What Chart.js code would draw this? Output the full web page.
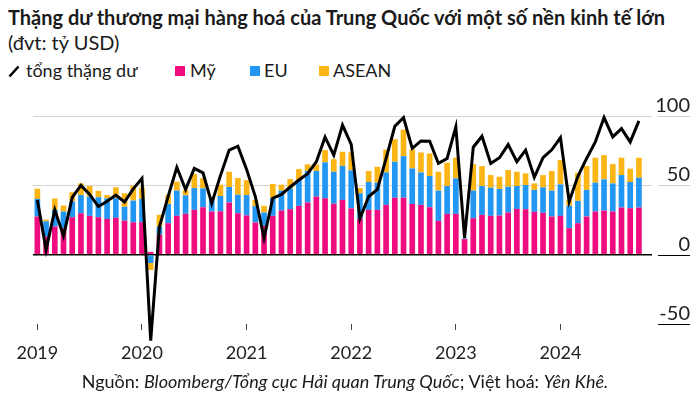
<!DOCTYPE html>
<html>
<head>
<meta charset="utf-8">
<script src="https://cdn.jsdelivr.net/npm/chart.js@4"></script>
<style>
  body { margin: 0; width: 700px; height: 395px; position: relative; background: #fff; font-family: Lato, sans-serif; color: #1a1a1a; overflow: hidden; }
  canvas { position: absolute; left: 0; top: 0; }
  .title { position: absolute; left: 8px; top: 5px; font-size: 20px; font-weight: bold; white-space: nowrap; line-height: 24px; }
  .unit { position: absolute; left: 8px; top: 30px; font-size: 20px; line-height: 24px; }
  .leg { position: absolute; top: 60px; font-size: 18px; line-height: 21px; white-space: nowrap; }
  .sw { position: absolute; top: 66px; width: 10px; height: 10px; }
  .source { position: absolute; left: 0; top: 370px; width: 690px; text-align: center; font-size: 18px; line-height: 22px; white-space: nowrap; }
</style>
</head>
<body>
<div class="title">Thặng dư thương mại hàng hoá của Trung Quốc với một số nền kinh tế lớn</div>
<div class="unit">(đvt: tỷ USD)</div>
<svg style="position:absolute;left:8px;top:65px" width="12" height="13"><line x1="1.5" y1="11.5" x2="10.5" y2="1.5" stroke="#000" stroke-width="2.6"/></svg>
<div class="leg" style="left:26px">tổng thặng dư</div>
<div class="sw" style="left:175px;background:#ee0c7e"></div>
<div class="leg" style="left:190px">Mỹ</div>
<div class="sw" style="left:250px;background:#2196f3"></div>
<div class="leg" style="left:264px">EU</div>
<div class="sw" style="left:319px;background:#fbb616"></div>
<div class="leg" style="left:333px">ASEAN</div>
<canvas id="c" width="700" height="395"></canvas>
<div class="source">Nguồn: <i>Bloomberg/Tổng cục Hải quan Trung Quốc</i>; Việt hoá: <i>Yên Khê.</i></div>
<script>
const years = ['2019', '2020', '2021', '2022', '2023', '2024'];

// thặng dư với Mỹ (tỷ USD), T1/2019 - T10/2024
const usa = [
  27.5, 13, 20.3, 19, 27, 29.9, 28, 27, 25.8, 26.6, 24.6, 23.3,
  23.4, 2, 14.4, 22.7, 28, 29.5, 32.3, 34.2, 31.1, 31.3, 37.6, 29.9,
  28.3, 23.2, 20.8, 28, 31.8, 32.8, 35.2, 37.6, 41.9, 40.7, 36.8, 39.5,
  33.4, 26, 32.3, 32.3, 35.9, 41.1, 41.1, 36.6, 35.9, 34.2, 24.4, 29.4,
  29.4, 11.2, 26.3, 28.7, 28, 28.2, 30.4, 33, 32.8, 30.9, 30.2, 27.5,
  28, 19.1, 22.7, 27.5, 31.1, 31.8, 31.1, 34, 33.5, 34
];
const eu = [
  12.7, 11, 12, 12.1, 11.3, 13.1, 13.9, 14.4, 14.9, 14.1, 9.9, 15.7,
  16.9, -6, 5.7, 13.8, 18.2, 13.3, 15.7, 13.6, 8.9, 11, 11.2, 13.3,
  14.7, 11.8, 9.6, 13, 14.4, 15, 18.6, 22.8, 18.5, 25.9, 23, 24.5,
  27.4, 18.3, 20.1, 19.6, 23.4, 25.9, 29.9, 25.6, 23.4, 22.5, 21.8, 20.1,
  25.6, 0.5, 19.9, 20.8, 20.3, 19.2, 18.6, 16.5, 17.4, 15.8, 18.3, 18.7,
  22.7, 16.3, 16.1, 19.2, 20.8, 22.5, 20.3, 23.4, 18.9, 21.5
];
const asean = [
  7.4, 1.3, 8.2, 4.3, 6.7, 8.4, 7.6, 4.6, 2.3, 7.9, 9.8, 10.7,
  8.1, -5, 8.6, 6.5, 6.4, 3.9, 10.3, 7.4, 1.9, 8.2, 11, 12.1,
  10.8, 4.5, 4.8, 10, 4.3, 6.7, 7.9, 4.8, 4.6, 8.8, 9.1, 10.2,
  13.1, 3.8, 7.9, 11.5, 16.5, 16.3, 19.2, 13.6, 14.4, 16.3, 13.6, 16.8,
  14.9, 0, 19.1, 14.4, 9.1, 8.8, 12, 10.3, 8.4, 4.7, 8.9, 14.1,
  17.5, 4.1, 20.3, 17.2, 18, 17.5, 13.9, 12.5, 9.6, 14.4
];
const total = [
  39.5, 3.5, 32.3, 13.5, 41.3, 50, 43.5, 34.7, 38.5, 43, 38, 47.5,
  55, -62, 20, 42, 63, 47, 62.2, 59, 37, 57, 75.4, 78.2,
  61.5, 41.9, 12, 40.7, 43.5, 48.8, 53.8, 58.4, 67, 84.8, 71.8, 93.5,
  79.5, 26, 41.9, 47.1, 69.4, 92.6, 98.8, 76.6, 82, 81.8, 65.8, 69.4,
  92.1, 12, 77.5, 85.4, 65.8, 69.9, 79.4, 67, 75.4, 55.8, 70, 75.6,
  84.4, 38.3, 56.5, 69.4, 81.3, 98.9, 84.9, 90.9, 81.3, 96.5
];
const yTicks = [100, 50, 0, -50];

// một tháng trống ở cuối trục (T11/2024)
const months = [];
years.forEach(y => { for (let m = 1; m <= 12; m++) months.push(y + '-' + m); });
months.length = 71;

const yLabels = {
  id: 'yLabels',
  afterDraw(chart) {
    const { ctx, chartArea, scales: { y } } = chart;
    ctx.save();
    ctx.font = '20px Lato';
    ctx.textAlign = 'right';
    ctx.fillStyle = '#222';
    yTicks.forEach(v => {
      const py = Math.round(y.getPixelForValue(v)) + 0.5;
      ctx.strokeStyle = v > 0 ? '#cfcfcf' : '#000';
      ctx.lineWidth = 1;
      ctx.beginPath();
      ctx.moveTo(chartArea.right + 6, py);
      ctx.lineTo(690, py);
      ctx.stroke();
      ctx.fillText(String(v), 690, py - 5);
    });
    ctx.restore();
  }
};

new Chart(document.getElementById('c'), {
  data: {
    labels: months,
    datasets: [
      { type: 'line', label: 'tổng thặng dư', data: total, stack: 'line', borderColor: '#000', borderWidth: 3, pointRadius: 0, tension: 0, clip: false, order: 0 },
      { type: 'bar', label: 'Mỹ', data: usa, backgroundColor: '#ee0c7e', stack: 'bars', order: 1 },
      { type: 'bar', label: 'EU', data: eu, backgroundColor: '#2196f3', stack: 'bars', order: 1 },
      { type: 'bar', label: 'ASEAN', data: asean, backgroundColor: '#fbb616', stack: 'bars', order: 1 }
    ]
  },
  options: {
    responsive: false,
    animation: false,
    layout: { padding: { left: 33, right: 48, top: 116, bottom: 26 } },
    datasets: { bar: { barPercentage: 0.65, categoryPercentage: 1 } },
    plugins: { legend: { display: false }, tooltip: { enabled: false } },
    scales: {
      x: {
        stacked: true,
        offset: true,
        border: { display: false },
        grid: {
          offset: false,
          drawOnChartArea: false,
          tickLength: 6,
          color: c => c.index % 12 === 0 ? '#444' : 'rgba(0,0,0,0)'
        },
        ticks: {
          autoSkip: false,
          maxRotation: 0,
          padding: 12,
          color: '#222',
          font: { family: 'Lato', size: 18 },
          callback: (v, i) => i % 12 === 0 ? years[i / 12] : ''
        },
        afterFit: s => { s.height = 45; }
      },
      y: {
        stacked: true,
        position: 'right',
        min: -50,
        max: 100,
        border: { display: false },
        grid: {
          drawTicks: false,
          color: c => c.tick.value === 0 ? '#000' : (c.tick.value > 0 ? '#d4d4d4' : 'rgba(0,0,0,0)'),
          lineWidth: c => c.tick.value === 0 ? 1.5 : 1
        },
        ticks: { display: false, stepSize: 50 },
        afterFit: s => { s.width = 0; }
      }
    }
  },
  plugins: [yLabels]
});
</script>
</body>
</html>
